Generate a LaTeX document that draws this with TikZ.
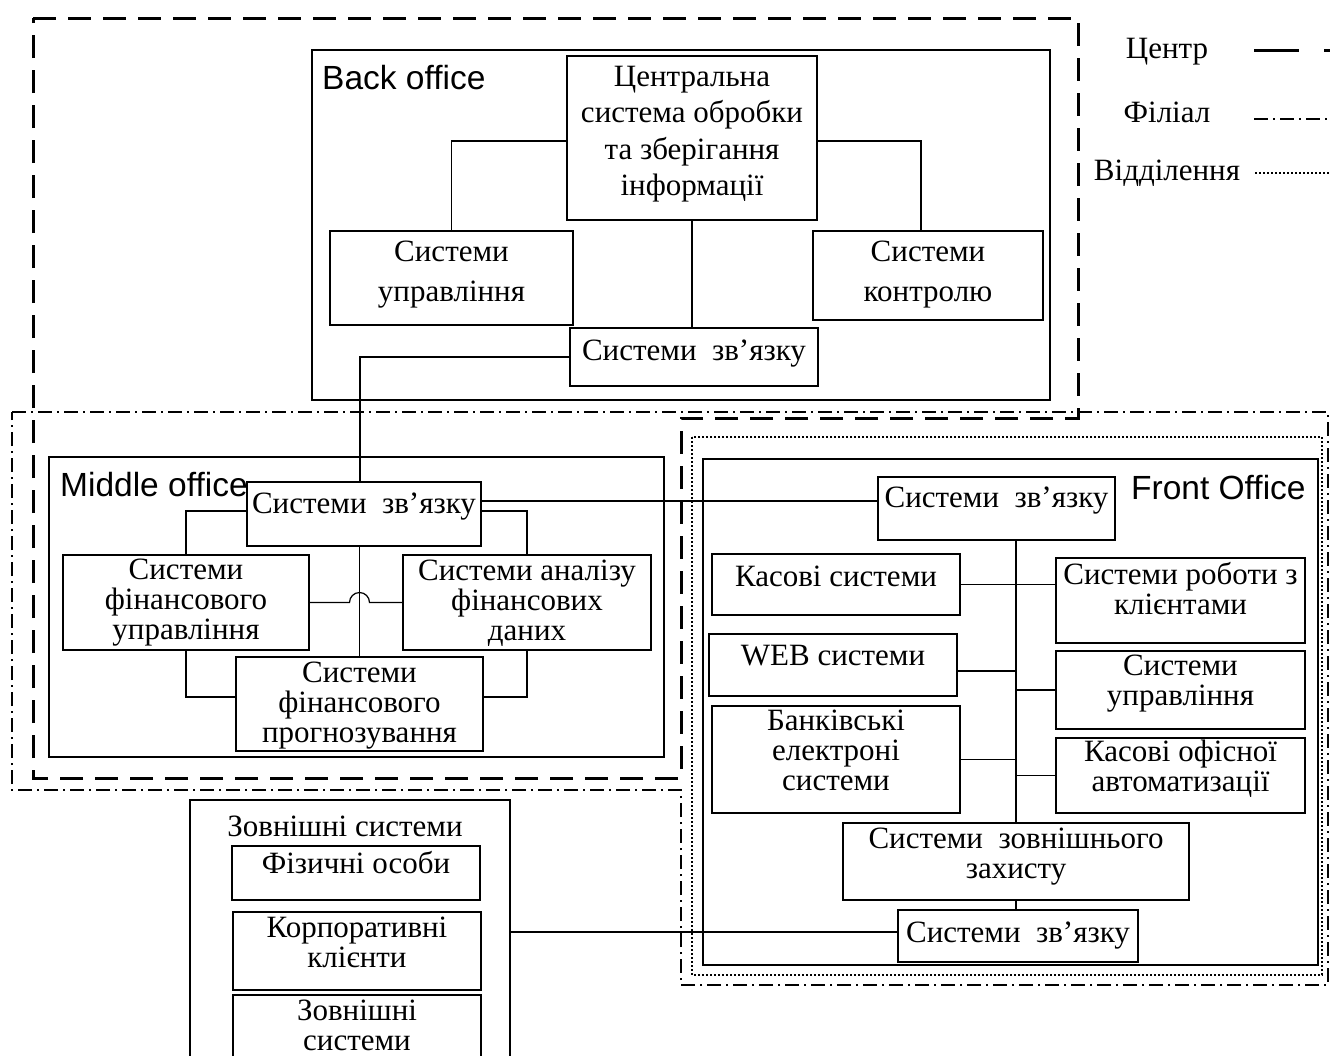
\documentclass[tikz,border=0pt]{standalone}
\usepackage{fontspec}
\setmainfont{Liberation Serif}
\newfontfamily\arialfont{Liberation Sans}
\begin{document}
\begin{tikzpicture}[x=1pt,y=-1pt,font=\fontsize{31}{30}\selectfont,
box/.style={draw,line width=2pt,align=center,inner sep=0pt},
frame/.style={draw,line width=1.5pt,inner sep=0pt},
wh/.style 2 args={minimum width=#1pt,minimum height=#2pt},
lift/.style={text depth=#1pt},
link/.style={line width=1.2pt},
centr/.style={line width=3pt,dash pattern=on 23pt off 12pt},
filial/.style={line width=1.3pt,dash pattern=on 14pt off 5pt on 2pt off 5pt},
viddil/.style={line width=1.5pt,dash pattern=on 2pt off 2pt},
office/.style={anchor=west,inner sep=0pt,font=\arialfont\fontsize{33.5}{36}\selectfont}]
\useasboundingbox(0,0)rectangle(1330,1055);
\clip(0,0)rectangle(1330,1055);
\node[frame,wh={738}{350}](back)at(681,225){};
\node[office](backlbl)at(322,78){Back office};
\node[box,wh={250}{164},lift=14,font=\fontsize{31}{36.5}\selectfont](bcen)at(692,138){Центральна\\система обробки\\та зберігання\\інформації};
\node[box,wh={243}{94},lift=14,font=\fontsize{31}{40}\selectfont](bupr)at(451.5,278){Системи\\управління};
\node[box,wh={230}{89},lift=9,font=\fontsize{31}{40}\selectfont](bctl)at(928,275.5){Системи\\контролю};
\node[box,wh={248}{58},lift=14](bcom)at(694,357){Системи\ \ зв’язку};
\draw[link]([yshift=-3pt]bcen.west)-|(bupr.north);
\draw[link]([yshift=-3pt]bcen.east)-|([xshift=-7pt]bctl.north);
\draw[link](bcen.south)--(bcen.south|-bcom.north);
\node[frame,wh={615}{300}](middle)at(356.5,607){};
\node[box,wh={234}{64},lift=22](mcom)at(364,514){Системи\ \ зв’язку};
\node[office](midlbl)at(60,485){Middle office};
\node[box,wh={246}{95},lift=7](mfin)at(186,602.5){Системи\\фінансового\\управління};
\node[box,wh={248}{95},lift=5](mana)at(527,602.5){Системи аналізу\\фінансових\\даних};
\node[box,wh={247}{94},lift=4](mprog)at(359.5,704){Системи\\фінансового\\прогнозування};
\draw[link](bcom.west)-|([xshift=-4pt]mcom.north);
\draw[link]([yshift=3pt]mcom.west)-|(mfin.north);
\draw[link]([yshift=3pt]mcom.east)-|(mana.north);
\draw[link](mcom.south-|mprog.north)--(mprog.north);
\coordinate(jmp)at(mfin.east-|mprog.north);
\draw[link](mfin.east)--([xshift=-10pt]jmp)arc[start angle=180,end angle=0,radius=10pt]--(mana.west);
\draw[link](mfin.south)|-([yshift=7pt]mprog.west);
\draw[link](mana.south)|-([yshift=7pt]mprog.east);
\node[frame,wh={615}{506}](front)at(1010.5,712){};
\node[office](frontlbl)at(1131,488){Front Office};
\node[box,wh={237}{63},lift=23](fcom)at(996.5,508.5){Системи\ \ зв’язку};
\node[box,wh={248}{61},lift=17](fkas)at(836,584.5){Касові системи};
\node[box,wh={248}{62},lift=20](fweb)at(833,665){WEB системи};
\node[box,wh={248}{107},lift=19](fbank)at(836,759.5){Банківські\\електроні\\системи};
\node[box,wh={249}{85},lift=25](fcli)at(1180.5,600.5){Системи роботи з\\клієнтами};
\node[box,wh={249}{78},lift=20](fmgr)at(1180.5,690){Системи\\управління};
\node[box,wh={249}{75},lift=19](foff)at(1180.5,775.5){Касові офісної\\автоматизації};
\node[box,wh={346}{77},lift=17](fprot)at(1016,861.5){Системи\ \ зовнішнього\\захисту};
\node[box,wh={240}{52},lift=8](fbcom)at(1018,936){Системи\ \ зв’язку};
\coordinate(mcr)at([yshift=13pt]mcom.east);
\draw[link](mcr)--(mcr-|fcom.west);
\draw[link](fcom.south-|fprot.north)--(fprot.north);
\draw[link](fkas.east)--(fkas.east-|fcli.west);
\coordinate(fw)at([yshift=-6pt]fweb.east);
\draw[link](fw)--(fw-|fprot.north);
\draw[link](fbank.east)--(fbank.east-|fprot.north);
\draw[link](fmgr.west)--(fmgr.west-|fprot.north);
\draw[link](foff.west)--(foff.west-|fprot.north);
\draw[link](fprot.south)--(fprot.south|-fbcom.north);
\node[frame,wh={320}{270}](ext)at(350,935){};
\node(extlbl)at(345,826){Зовнішні системи};
\node[box,wh={248}{54},lift=22](eper)at(356,873){Фізичні особи};
\node[box,wh={248}{78},lift=18](ecorp)at(357,951){Корпоративні\\клієнти};
\node[box,wh={248}{70},lift=10](eext)at(357,1030){Зовнішні\\системи};
\coordinate(fbl)at([yshift=4pt]fbcom.west);
\draw[link](fbl)--(fbl-|ext.east);
\draw[centr](33,18)--(1078,18)--(1078,418)--(681,418)--(681,778)--(33,778)--cycle;
\draw[filial](12,412)--(1328,412)--(1328,985)--(681,985)--(681,790)--(12,790)--cycle;
\draw[viddil](692,437)rectangle(1322,975);
\node(lcen)at(1167,52){Центр};
\node(lfil)at(1167,112){Філіал};
\node(lvid)at(1167,173){Відділення};
\draw[line width=3pt,dash pattern=on 45pt off 25pt](1254,50)--(1330,50);
\draw[filial](1254,119)--(1330,119);
\draw[viddil](1255,173)--(1330,173);
\end{tikzpicture}
\end{document}
